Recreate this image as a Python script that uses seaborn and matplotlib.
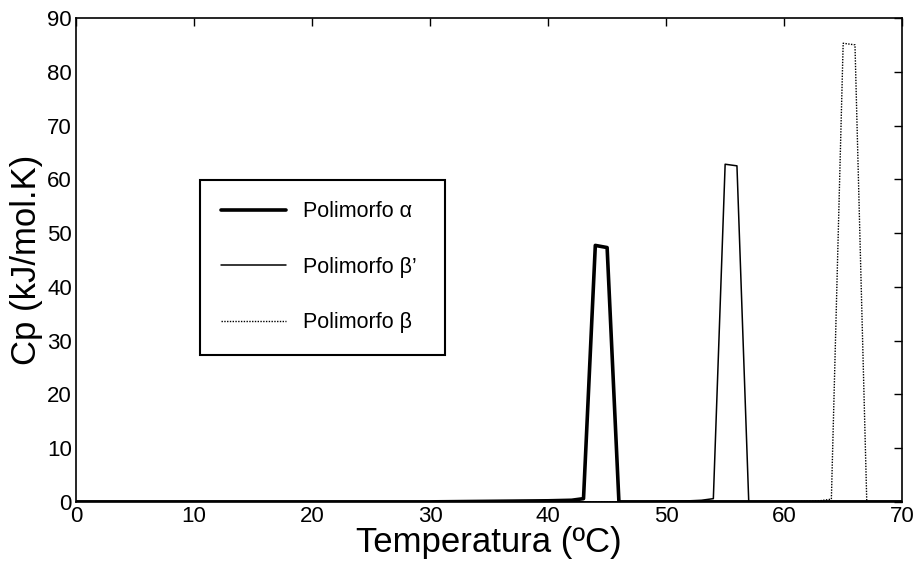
import matplotlib
matplotlib.use("Agg")
import matplotlib.pyplot as plt
import seaborn as sns

# Cp curves (piecewise points)
alpha_t = [0, 30, 35, 40, 42, 43, 44, 45, 46, 70]
alpha_cp = [0.0, 0.0, 0.1, 0.2, 0.3, 0.6, 47.7, 47.3, 0.0, 0.0]

beta1_t = [0, 48, 52, 53, 54, 55, 56, 57, 70]
beta1_cp = [0.0, 0.0, 0.2, 0.3, 0.6, 62.8, 62.5, 0.0, 0.0]

beta_t = [0, 60, 62, 63, 64, 65, 66, 67, 70]
beta_cp = [0.0, 0.0, 0.1, 0.2, 0.5, 85.3, 85.0, 0.0, 0.0]

labels = ["Polimorfo α", "Polimorfo β’", "Polimorfo β"]
x_ticks = [0, 10, 20, 30, 40, 50, 60, 70]
y_ticks = [0, 10, 20, 30, 40, 50, 60, 70, 80, 90]

sns.set_style("white")
plt.rcParams["font.family"] = ["Liberation Sans", "DejaVu Sans"]
plt.rcParams["text.color"] = "black"
plt.rcParams["axes.labelcolor"] = "black"
plt.rcParams["xtick.color"] = "black"
plt.rcParams["ytick.color"] = "black"

fig = plt.figure(figsize=(9.19, 5.62), dpi=100)
ax = fig.add_axes([0.0827, 0.107, 0.899, 0.861])

sns.lineplot(x=alpha_t, y=alpha_cp, ax=ax, color="black", linewidth=2.6, label=labels[0])
sns.lineplot(x=beta1_t, y=beta1_cp, ax=ax, color="black", linewidth=1.1, label=labels[1])
sns.lineplot(x=beta_t, y=beta_cp, ax=ax, color="black", linewidth=1.0, linestyle=(0, (1, 1)), label=labels[2])

ax.set_xlim(0, 70)
ax.set_ylim(0, 90)
ax.set_xticks(x_ticks)
ax.set_yticks(y_ticks)
ax.tick_params(direction="in", length=6, width=1, top=True, right=True, labelsize=16, pad=3)
for s in ax.spines.values():
    s.set_linewidth(1.2)
    s.set_color("black")

ax.set_xlabel("Temperatura (ºC)", fontsize=25, labelpad=-1)
ax.set_ylabel("Cp (kJ/mol.K)", fontsize=25, labelpad=3)

leg = ax.legend(loc="lower left", bbox_to_anchor=(0.150, 0.304, 0.297, 0.351), mode="expand",
                fontsize=15.5, handlelength=3.0, handletextpad=0.8, labelspacing=1.6,
                borderpad=1.0, borderaxespad=0,
                fancybox=False, framealpha=1, edgecolor="black")
leg.get_frame().set_linewidth(1.5)

fig.savefig("out.png", dpi=100)
